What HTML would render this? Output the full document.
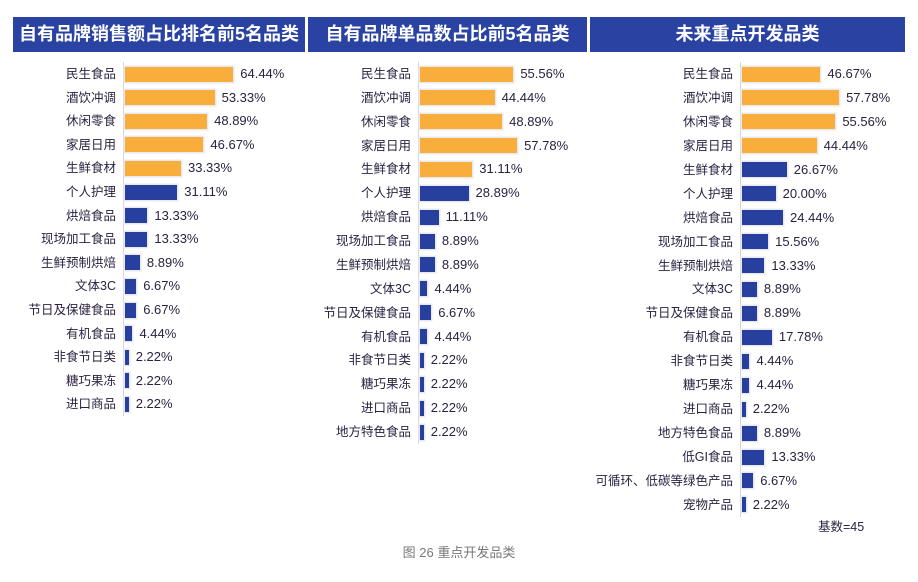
<!DOCTYPE html>
<html><head><meta charset="utf-8"><style>
body{margin:0;width:918px;height:582px;background:#fff;position:relative;overflow:hidden;font-family:"Liberation Sans","Noto Sans CJK SC",sans-serif;}
.h{position:absolute;top:17px;height:35px;background:#2A43A2;color:#fff;font-weight:bold;font-size:18px;line-height:35px;text-align:center;}
.l{position:absolute;font-size:12.5px;color:#2a2240;text-align:right;width:200px;line-height:16px;}
.b{position:absolute;height:15px;box-shadow:0 0 0 1.5px #e8e8ee;}
.v{position:absolute;font-size:13px;color:#2a2240;line-height:16px;}
.ax{position:absolute;width:1px;background:#d5d5dd;}
</style></head><body>
<div class="h" style="left:13px;width:292px">自有品牌销售额占比排名前5名品类</div>
<div class="h" style="left:308px;width:279px">自有品牌单品数占比前5名品类</div>
<div class="h" style="left:590px;width:315px">未来重点开发品类</div>
<div id="c"></div>
<div class="v" style="left:818px;top:519px;font-size:12.5px">基数=45</div>
<div style="position:absolute;left:0;width:918px;top:542px;text-align:center;font-size:13px;color:#777">图 26 重点开发品类</div>
<script>
var P=[
{ax:123,y0:74,sp:23.6,o:5,d:[["民生食品",64.44],["酒饮冲调",53.33],["休闲零食",48.89],["家居日用",46.67],["生鲜食材",33.33],["个人护理",31.11],["烘焙食品",13.33],["现场加工食品",13.33],["生鲜预制烘焙",8.89],["文体3C",6.67],["节日及保健食品",6.67],["有机食品",4.44],["非食节日类",2.22],["糖巧果冻",2.22],["进口商品",2.22]]},
{ax:418,y0:74,sp:23.87,o:5,d:[["民生食品",55.56],["酒饮冲调",44.44],["休闲零食",48.89],["家居日用",57.78],["生鲜食材",31.11],["个人护理",28.89],["烘焙食品",11.11],["现场加工食品",8.89],["生鲜预制烘焙",8.89],["文体3C",4.44],["节日及保健食品",6.67],["有机食品",4.44],["非食节日类",2.22],["糖巧果冻",2.22],["进口商品",2.22],["地方特色食品",2.22]]},
{ax:740,y0:74,sp:23.94,o:4,d:[["民生食品",46.67],["酒饮冲调",57.78],["休闲零食",55.56],["家居日用",44.44],["生鲜食材",26.67],["个人护理",20.00],["烘焙食品",24.44],["现场加工食品",15.56],["生鲜预制烘焙",13.33],["文体3C",8.89],["节日及保健食品",8.89],["有机食品",17.78],["非食节日类",4.44],["糖巧果冻",4.44],["进口商品",2.22],["地方特色食品",8.89],["低GI食品",13.33],["可循环、低碳等绿色产品",6.67],["宠物产品",2.22]]}];
var h="";
P.forEach(function(p){
 var n=p.d.length;
 h+='<div class="ax" style="left:'+p.ax+'px;top:'+(p.y0-12)+'px;height:'+((n-1)*p.sp+24)+'px"></div>';
 p.d.forEach(function(r,i){
  var y=p.y0+i*p.sp, w=Math.max(2,r[1]*1.68);
  h+='<div class="l" style="left:'+(p.ax-207)+'px;top:'+(y-8)+'px">'+r[0]+'</div>';
  h+='<div class="b" style="left:'+(p.ax+2)+'px;top:'+(y-7.5)+'px;width:'+w+'px;background:'+(i<p.o?'#F9AE3C':'#2740A0')+'"></div>';
  h+='<div class="v" style="left:'+(p.ax+2+w+7)+'px;top:'+(y-8)+'px">'+r[1].toFixed(2)+'%</div>';
 });
});
document.getElementById("c").innerHTML=h;
</script>
</body></html>
